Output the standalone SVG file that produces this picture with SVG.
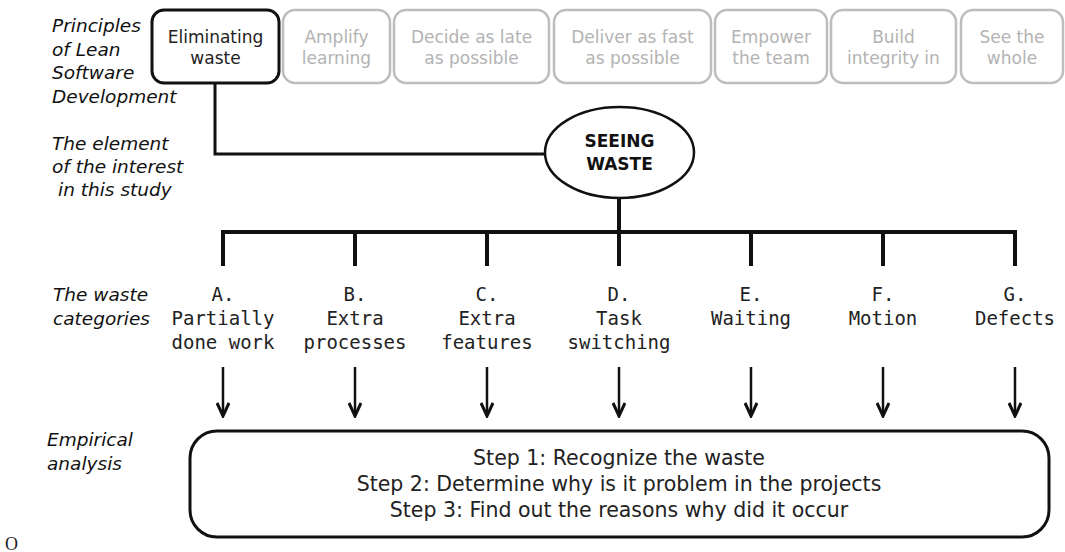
<svg xmlns="http://www.w3.org/2000/svg" width="1065" height="552" viewBox="0 0 1065 552">
  <style>
    .label { font-family: "DejaVu Sans", sans-serif; font-style: italic; font-size: 18.5px; fill: #111; }
    .principle { fill: #fff; stroke: #bdbdbd; stroke-width: 2.5; }
    .principle-text { font-family: "DejaVu Sans", sans-serif; font-size: 17px; fill: #b3b3b3; text-anchor: middle; }
    .active { fill: #fff; stroke: #111; stroke-width: 3; }
    .active-text { font-family: "DejaVu Sans", sans-serif; font-size: 17px; fill: #222; text-anchor: middle; }
    .focus { fill: #fff; stroke: #111; stroke-width: 2.5; }
    .focus-text { font-family: "DejaVu Sans", sans-serif; font-weight: bold; font-size: 17px; fill: #111; text-anchor: middle; }
    .category { font-family: "DejaVu Sans Mono", monospace; font-size: 19px; fill: #222; text-anchor: middle; }
    .tree { fill: none; stroke: #111; stroke-width: 4; stroke-linejoin: miter; }
    .link { fill: none; stroke: #111; stroke-width: 3; }
    .arrow { fill: none; stroke: #111; stroke-width: 2.5; marker-end: url(#head); }
    .analysis { fill: #fff; stroke: #111; stroke-width: 3; }
    .step { font-family: "DejaVu Sans", sans-serif; font-size: 20.5px; fill: #222; text-anchor: middle; }
  </style>
  <defs>
    <!-- open V head, drawn pointing along +x so orient="auto" turns it with the line -->
    <marker id="head" viewBox="0 0 16 14" refX="14" refY="7" markerWidth="16" markerHeight="14" markerUnits="userSpaceOnUse" orient="auto">
      <path d="M1,1 L14,7 L1,13" fill="none" stroke="#111" stroke-width="3" stroke-linejoin="miter"/>
    </marker>
  </defs>

  <rect width="1065" height="552" fill="#fff"/>

  <!-- row labels on the left -->
  <g id="row-labels">
    <text class="label" x="52" y="32">Principles</text>
    <text class="label" x="52" y="55.5">of Lean</text>
    <text class="label" x="52" y="79">Software</text>
    <text class="label" x="52" y="102.5">Development</text>
    <text class="label" x="52" y="150">The element</text>
    <text class="label" x="52" y="173">of the interest</text>
    <text class="label" x="58" y="196">in this study</text>
    <text class="label" x="53" y="301">The waste</text>
    <text class="label" x="53" y="325">categories</text>
    <text class="label" x="47" y="446">Empirical</text>
    <text class="label" x="47" y="470">analysis</text>
  </g>

  <!-- the seven principles -->
  <g id="principle-eliminating-waste">
    <rect class="active" x="152" y="10" width="127" height="73" rx="12"/>
    <text class="active-text" x="215.5" y="43">Eliminating</text>
    <text class="active-text" x="215.5" y="63.5">waste</text>
  </g>
  <g id="principle-amplify-learning">
    <rect class="principle" x="283" y="10" width="107" height="73" rx="12"/>
    <text class="principle-text" x="336.5" y="43">Amplify</text>
    <text class="principle-text" x="336.5" y="63.5">learning</text>
  </g>
  <g id="principle-decide-late">
    <rect class="principle" x="394" y="10" width="155" height="73" rx="12"/>
    <text class="principle-text" x="471.5" y="43">Decide as late</text>
    <text class="principle-text" x="471.5" y="63.5">as possible</text>
  </g>
  <g id="principle-deliver-fast">
    <rect class="principle" x="554" y="10" width="157" height="73" rx="12"/>
    <text class="principle-text" x="632.5" y="43">Deliver as fast</text>
    <text class="principle-text" x="632.5" y="63.5">as possible</text>
  </g>
  <g id="principle-empower-team">
    <rect class="principle" x="715" y="10" width="112" height="73" rx="12"/>
    <text class="principle-text" x="771" y="43">Empower</text>
    <text class="principle-text" x="771" y="63.5">the team</text>
  </g>
  <g id="principle-build-integrity">
    <rect class="principle" x="831" y="10" width="125" height="73" rx="12"/>
    <text class="principle-text" x="893.5" y="43">Build</text>
    <text class="principle-text" x="893.5" y="63.5">integrity in</text>
  </g>
  <g id="principle-see-whole">
    <rect class="principle" x="961" y="10" width="102" height="73" rx="12"/>
    <text class="principle-text" x="1012" y="43">See the</text>
    <text class="principle-text" x="1012" y="63.5">whole</text>
  </g>

  <!-- focus of the study -->
  <g id="seeing-waste">
    <ellipse class="focus" cx="619.5" cy="152.5" rx="74.5" ry="45.5"/>
    <text class="focus-text" x="619.5" y="147">SEEING</text>
    <text class="focus-text" x="619.5" y="169.5">WASTE</text>
  </g>

  <!-- waste categories -->
  <g id="category-a">
    <text class="category" x="223" y="301">A.</text>
    <text class="category" x="223" y="325">Partially</text>
    <text class="category" x="223" y="349">done work</text>
  </g>
  <g id="category-b">
    <text class="category" x="355" y="301">B.</text>
    <text class="category" x="355" y="325">Extra</text>
    <text class="category" x="355" y="349">processes</text>
  </g>
  <g id="category-c">
    <text class="category" x="487" y="301">C.</text>
    <text class="category" x="487" y="325">Extra</text>
    <text class="category" x="487" y="349">features</text>
  </g>
  <g id="category-d">
    <text class="category" x="619" y="301">D.</text>
    <text class="category" x="619" y="325">Task</text>
    <text class="category" x="619" y="349">switching</text>
  </g>
  <g id="category-e">
    <text class="category" x="751" y="301">E.</text>
    <text class="category" x="751" y="325">Waiting</text>
  </g>
  <g id="category-f">
    <text class="category" x="883" y="301">F.</text>
    <text class="category" x="883" y="325">Motion</text>
  </g>
  <g id="category-g">
    <text class="category" x="1015" y="301">G.</text>
    <text class="category" x="1015" y="325">Defects</text>
  </g>

  <!-- empirical analysis box -->
  <g id="empirical-analysis">
    <rect class="analysis" x="190" y="431" width="859" height="106" rx="27"/>
    <text class="step" x="619" y="465">Step 1: Recognize the waste</text>
    <text class="step" x="619" y="491">Step 2: Determine why is it problem in the projects</text>
    <text class="step" x="619" y="517">Step 3: Find out the reasons why did it occur</text>
  </g>

  <!-- connectors -->
  <g id="connectors">
    <path class="link" d="M215,83 V154 H545"/>
    <path class="tree" d="M619,198 V266"/>
    <path class="tree" d="M223,266 V232 H1015 V266"/>
    <path class="tree" d="M355,232 V266 M487,232 V266 M751,232 V266 M883,232 V266"/>
    <path class="arrow" d="M223,367 V416"/>
    <path class="arrow" d="M355,367 V416"/>
    <path class="arrow" d="M487,367 V416"/>
    <path class="arrow" d="M619,367 V416"/>
    <path class="arrow" d="M751,367 V416"/>
    <path class="arrow" d="M883,367 V416"/>
    <path class="arrow" d="M1015,367 V416"/>
  </g>

  <text x="5" y="550" font-family="Liberation Serif, serif" font-size="18" fill="#222">O</text>
</svg>
